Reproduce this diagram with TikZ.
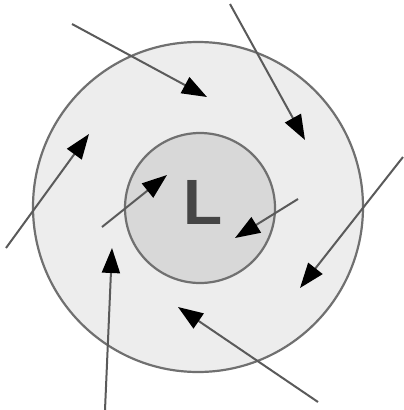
\documentclass[tikz,border=0pt]{standalone}
\usepackage{fontspec}
\setmainfont{Liberation Sans}
\usetikzlibrary{arrows.meta}
\definecolor{ringfill}{HTML}{EDEDED}
\definecolor{corefill}{HTML}{D8D8D8}
\definecolor{edge}{HTML}{707070}
\definecolor{wind}{HTML}{5A5A5A}
\definecolor{letter}{HTML}{454545}
\begin{document}
\begin{tikzpicture}[x=1pt,y=-1pt,
  ringstyle/.style={circle,draw=edge,line width=2.2pt,inner sep=0pt},
  windarrow/.style={draw=wind,line width=2pt,-{Triangle[length=25pt,width=18pt,color=black]}}]
\useasboundingbox (0,0) rectangle (404,410);
\node[ringstyle,fill=ringfill,minimum size=330pt] (outer) at (198,207) {};
\node[ringstyle,fill=corefill,minimum size=150pt] (inner) at (200,208) {};
\node[text=letter,font=\bfseries\fontsize{64}{64}\selectfont,inner sep=0pt] (low) at (203,202) {L};
% arrow endpoints
\coordinate (a1s) at (72,24);   \coordinate (a1e) at (207,97);
\coordinate (a2s) at (230,4);   \coordinate (a2e) at (305,140);
\coordinate (a3s) at (403,157); \coordinate (a3e) at (300,288);
\coordinate (a4s) at (318,402); \coordinate (a4e) at (178,307);
\coordinate (a5s) at (105,410); \coordinate (a5e) at (112,248);
\coordinate (a6s) at (6,248);   \coordinate (a6e) at (89,134);
\coordinate (a7s) at (102,227); \coordinate (a7e) at (167,175);
\coordinate (a8s) at (298,199); \coordinate (a8e) at (235,238);
\foreach \i in {1,...,8}{
  \draw[windarrow] (a\i s) -- (a\i e);
}
\end{tikzpicture}
\end{document}
